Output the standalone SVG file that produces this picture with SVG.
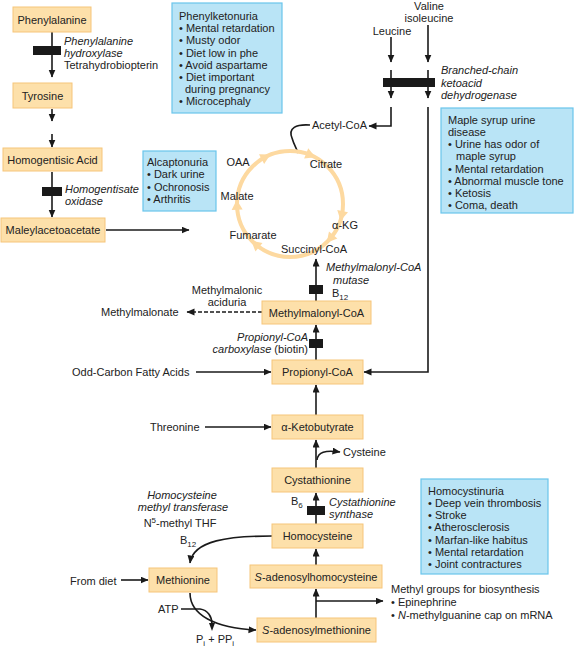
<svg xmlns="http://www.w3.org/2000/svg" width="574" height="650" viewBox="0 0 574 650">
<defs>
<marker id="ah" markerUnits="userSpaceOnUse" markerWidth="9" markerHeight="8" refX="7.5" refY="3.5" orient="auto">
<path d="M0,0 L8,3.5 L0,7 z" fill="#1a1a1a"/>
</marker>
<marker id="ahs" markerUnits="userSpaceOnUse" markerWidth="7" markerHeight="6" refX="5.5" refY="2.5" orient="auto">
<path d="M0,0 L6,2.5 L0,5 z" fill="#1a1a1a"/>
</marker>
</defs>
<style>
text{font-family:"Liberation Sans",Arial,sans-serif;font-size:11px;fill:#222}
.it{font-style:italic}
.mid{text-anchor:middle}
.end{text-anchor:end}
.box{fill:#fde0aa;stroke:#f6c57a;stroke-width:1}
.dz{fill:#b9e4f6;stroke:#69c5ec;stroke-width:1.2}
.ln{fill:none;stroke:#1a1a1a;stroke-width:1.6}
.arr{marker-end:url(#ah)}
.bar{fill:#1a1a1a}
.tca{fill:none;stroke:#fdd9a0;stroke-width:4}
.tcah{fill:#fdd9a0}
.sub{font-size:8px}
</style>
<rect width="574" height="650" fill="#fff"/>

<g id="connectors">
<path class="ln arr" d="M52,32 V77"/>
<path class="ln arr" d="M52,109 V121"/>
<path class="ln arr" d="M52,134 V147"/>
<path class="ln arr" d="M52,172 V217"/>
<path class="ln arr" d="M106,230 H189"/>
<path class="ln arr" d="M391,37 V62"/>
<path class="ln arr" d="M428,25 V62"/>
<path class="ln arr" d="M391,70 V98"/>
<path class="ln arr" d="M428,70 V98"/>
<path class="ln arr" d="M391,107 V126 H369"/>
<path class="ln arr" d="M428,107 V372 H364"/>
<path class="ln" d="M310,125 C296,124 288,128 292,138 C294,145 297,149 298,153" stroke-width="1.3"/>
<path class="ln arr" d="M316,301 V259"/>
<path class="ln arr" d="M316,360 V325"/>
<path class="ln arr" d="M316,415 V385"/>
<path class="ln arr" d="M316,468 V440"/>
<path class="ln arr" d="M316,524 V493"/>
<path class="ln arr" d="M316,565 V549"/>
<path class="ln arr" d="M316,618 V589"/>
<path class="ln arr" d="M316,601 H383"/>
<path class="ln arr" d="M262,312 H187" stroke-dasharray="4,2"/>
<path class="ln arr" d="M196,372 H271"/>
<path class="ln arr" d="M205,427 H271"/>
<path class="ln arr" d="M317,460 C318,452 325,450 340,452"/>
<path class="ln arr" d="M121,580 H148"/>
<path class="ln arr" d="M272,536 C230,536 193,540 190,563"/>
<path class="ln arr" d="M190,593 C190,615 215,628 256,630"/>
<path class="ln" d="M181,609 H200 C208,610 212,617 212,624" stroke-width="1.1"/>
<path d="M209,623 L212,631 L215,623 z" fill="#1a1a1a"/>
<rect class="bar" x="33" y="46" width="28" height="9"/>
<rect class="bar" x="42" y="187" width="20" height="9"/>
<rect class="bar" x="383" y="78" width="52" height="9"/>
<rect class="bar" x="309" y="285" width="14" height="9"/>
<rect class="bar" x="309" y="339" width="14" height="9"/>
<rect class="bar" x="307" y="506" width="18" height="9"/>
</g>

<g id="tca-cycle">
<circle class="tca" cx="290" cy="204" r="53"/>
<g class="tcah">
<path d="M6,0 L-4,-5.5 L-4,5.5 z" transform="translate(265.1,157.2) rotate(-28)"/>
<path d="M6,0 L-4,-5.5 L-4,5.5 z" transform="translate(309.9,154.9) rotate(22)"/>
<path d="M6,0 L-4,-5.5 L-4,5.5 z" transform="translate(341.8,215) rotate(102)"/>
<path d="M6,0 L-4,-5.5 L-4,5.5 z" transform="translate(330.6,238.1) rotate(130)"/>
<path d="M6,0 L-4,-5.5 L-4,5.5 z" transform="translate(255.9,244.6) rotate(220)"/>
<path d="M6,0 L-4,-5.5 L-4,5.5 z" transform="translate(237,205.8) rotate(268)"/>
</g>
<text class="mid" x="238" y="166">OAA</text>
<text class="mid" x="326" y="168">Citrate</text>
<text class="mid" x="345" y="229">α-KG</text>
<text class="mid" x="314" y="253">Succinyl-CoA</text>
<text class="mid" x="253" y="239">Fumarate</text>
<text class="mid" x="237" y="200">Malate</text>
</g>

<g id="phenylalanine"><rect class="box" x="13" y="7" width="78" height="25"/><text class="mid" x="52" y="24">Phenylalanine</text></g>
<g id="phe-enzyme"><text class="it" x="64" y="45">Phenylalanine</text><text class="it" x="64" y="57">hydroxylase</text><text x="64" y="69">Tetrahydrobiopterin</text></g>
<g id="tyrosine"><rect class="box" x="13" y="83" width="59" height="25"/><text class="mid" x="42.5" y="100">Tyrosine</text></g>
<g id="homogentisic-acid"><rect class="box" x="3" y="148" width="99" height="23"/><text class="mid" x="52.5" y="164">Homogentisic Acid</text></g>
<g id="hga-enzyme"><text class="it" x="65" y="193">Homogentisate</text><text class="it" x="65" y="205">oxidase</text></g>
<g id="maleylacetoacetate"><rect class="box" x="1" y="218" width="104" height="24"/><text class="mid" x="53" y="234">Maleylacetoacetate</text></g>

<g id="phenylketonuria"><rect class="dz" x="172" y="3" width="110" height="110"/>
<text x="179" y="20">Phenylketonuria</text>
<text x="179" y="32">• Mental retardation</text>
<text x="179" y="44">• Musty odor</text>
<text x="179" y="57">• Diet low in phe</text>
<text x="179" y="69">• Avoid aspartame</text>
<text x="179" y="81">• Diet important</text>
<text x="185" y="93">during pregnancy</text>
<text x="179" y="105">• Microcephaly</text>
</g>

<g id="alcaptonuria"><rect class="dz" x="143" y="151" width="73" height="60"/>
<text x="147" y="166">Alcaptonuria</text>
<text x="147" y="178">• Dark urine</text>
<text x="147" y="191">• Ochronosis</text>
<text x="147" y="203">• Arthritis</text>
</g>

<g id="valine-isoleucine"><text class="mid" x="429" y="10">Valine</text><text class="mid" x="429" y="22">isoleucine</text></g>
<g id="leucine"><text class="mid" x="392" y="35">Leucine</text></g>
<g id="bckd-enzyme"><text class="it" x="441" y="74">Branched-chain</text><text class="it" x="441" y="87">ketoacid</text><text class="it" x="441" y="99">dehydrogenase</text></g>
<g id="acetyl-coa"><text x="312" y="129">Acetyl-CoA</text></g>

<g id="maple-syrup"><rect class="dz" x="441" y="108" width="132" height="105"/>
<text x="448" y="124">Maple syrup urine</text>
<text x="448" y="136">disease</text>
<text x="448" y="148">• Urine has odor of</text>
<text x="456" y="160">maple syrup</text>
<text x="448" y="173">• Mental retardation</text>
<text x="448" y="185">• Abnormal muscle tone</text>
<text x="448" y="197">• Ketosis</text>
<text x="448" y="209">• Coma, death</text>
</g>

<g id="mm-mutase"><text class="it" x="326" y="271">Methylmalonyl-CoA</text><text class="it" x="333" y="284">mutase</text><text x="332" y="297">B<tspan class="sub" dy="3">12</tspan></text></g>
<g id="methylmalonic-aciduria"><text class="mid" x="227" y="294">Methylmalonic</text><text class="mid" x="227" y="306">aciduria</text></g>
<g id="methylmalonate"><text x="101" y="316">Methylmalonate</text></g>
<g id="methylmalonyl-coa"><rect class="box" x="262" y="301" width="109" height="23"/><text class="mid" x="316.5" y="317">Methylmalonyl-CoA</text></g>
<g id="pcc-enzyme"><text class="it end" x="308" y="341">Propionyl-CoA</text><text class="end" x="308" y="353"><tspan class="it">carboxylase</tspan> (biotin)</text></g>
<g id="odd-carbon"><text x="72" y="376">Odd-Carbon Fatty Acids</text></g>
<g id="propionyl-coa"><rect class="box" x="272" y="360" width="91" height="24"/><text class="mid" x="317.5" y="376">Propionyl-CoA</text></g>
<g id="threonine"><text x="150" y="431">Threonine</text></g>
<g id="a-ketobutyrate"><rect class="box" x="272" y="415" width="91" height="24"/><text class="mid" x="317.5" y="431">α-Ketobutyrate</text></g>
<g id="cysteine"><text x="343" y="456">Cysteine</text></g>
<g id="cystathionine"><rect class="box" x="272" y="468" width="91" height="24"/><text class="mid" x="317.5" y="484">Cystathionine</text></g>
<g id="cbs-enzyme"><text x="291" y="505">B<tspan class="sub" dy="3">6</tspan></text><text class="it" x="329" y="506">Cystathionine</text><text class="it" x="329" y="518">synthase</text></g>

<g id="homocystinuria"><rect class="dz" x="421" y="479" width="127" height="95"/>
<text x="428" y="495">Homocystinuria</text>
<text x="428" y="507">• Deep vein thrombosis</text>
<text x="428" y="519">• Stroke</text>
<text x="428" y="531">• Atherosclerosis</text>
<text x="428" y="544">• Marfan-like habitus</text>
<text x="428" y="556">• Mental retardation</text>
<text x="428" y="568">• Joint contractures</text>
</g>

<g id="hmt-enzyme"><text class="it mid" x="182" y="499">Homocysteine</text><text class="it mid" x="183" y="511">methyl transferase</text><text class="mid" x="180" y="527">N<tspan class="sub" dy="-4">5</tspan><tspan dy="4">-methyl THF</tspan></text><text x="180" y="544">B<tspan class="sub" dy="3">12</tspan></text></g>
<g id="homocysteine"><rect class="box" x="272" y="524" width="91" height="24"/><text class="mid" x="317.5" y="540">Homocysteine</text></g>
<g id="from-diet"><text x="70" y="585">From diet</text></g>
<g id="methionine"><rect class="box" x="149" y="568" width="68" height="24"/><text class="mid" x="183" y="584">Methionine</text></g>
<g id="sah"><rect class="box" x="250" y="565" width="132" height="23"/><text class="mid" x="316" y="581"><tspan class="it">S</tspan>-adenosylhomocysteine</text></g>
<g id="sam"><rect class="box" x="257" y="618" width="119" height="24"/><text class="mid" x="316.5" y="634"><tspan class="it">S</tspan>-adenosylmethionine</text></g>
<g id="atp"><text x="158" y="613">ATP</text><text x="196" y="643">P<tspan class="sub" dy="3">i</tspan><tspan dy="-3"> + PP</tspan><tspan class="sub" dy="3">i</tspan></text></g>
<g id="methyl-groups"><text x="391" y="593">Methyl groups for biosynthesis</text><text x="391" y="606">• Epinephrine</text><text x="391" y="619">• <tspan class="it">N</tspan>-methylguanine cap on mRNA</text></g>
</svg>
